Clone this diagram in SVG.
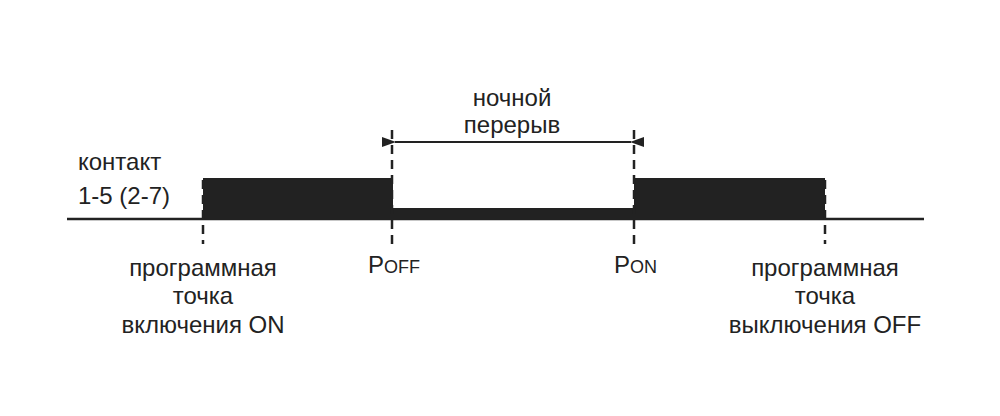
<svg xmlns="http://www.w3.org/2000/svg" width="1000" height="416" viewBox="0 0 1000 416">
<style>
text{font-family:"Liberation Sans",Arial,sans-serif;font-size:24px;fill:#222}
.d{stroke:#222;stroke-width:2.5;stroke-dasharray:9,6;fill:none}
</style>
<defs><marker id="a" viewBox="0 0 14 10" refX="1" refY="5" markerWidth="14" markerHeight="10" markerUnits="userSpaceOnUse" orient="auto-start-reverse"><path d="M14,0 L0,5 L14,10 z" fill="#222"/></marker></defs>
<rect width="1000" height="416" fill="#fff"/>
<g id="signal">
<line x1="67" y1="219" x2="924" y2="219" stroke="#222" stroke-width="2.5"/>
<rect x="203" y="178" width="190" height="42" fill="#222"/>
<rect x="393" y="208" width="241" height="12" fill="#222"/>
<rect x="634" y="178" width="191" height="42" fill="#222"/>
</g>
<g id="connectors">
<line class="d" x1="203" y1="180" x2="203" y2="244"/>
<line class="d" x1="392" y1="130" x2="392" y2="244"/>
<line class="d" x1="634" y1="130" x2="634" y2="244"/>
<line class="d" x1="825" y1="180" x2="825" y2="244"/>
<line x1="395" y1="142" x2="631" y2="142" stroke="#222" stroke-width="2" marker-start="url(#a)" marker-end="url(#a)"/>
</g>
<g id="labels">
<text x="78" y="170">контакт</text>
<text x="78" y="204">1-5 (2-7)</text>
<text x="512" y="106" text-anchor="middle">ночной</text>
<text x="512" y="133" text-anchor="middle">перерыв</text>
<text x="368" y="273">P<tspan font-size="18">OFF</tspan></text>
<text x="614" y="273">P<tspan font-size="18">ON</tspan></text>
<text x="203" y="276" text-anchor="middle">программная</text>
<text x="203" y="304" text-anchor="middle">точка</text>
<text x="203" y="333" text-anchor="middle">включения ON</text>
<text x="825" y="276" text-anchor="middle">программная</text>
<text x="825" y="304" text-anchor="middle">точка</text>
<text x="825" y="333" text-anchor="middle">выключения OFF</text>
</g>
</svg>
